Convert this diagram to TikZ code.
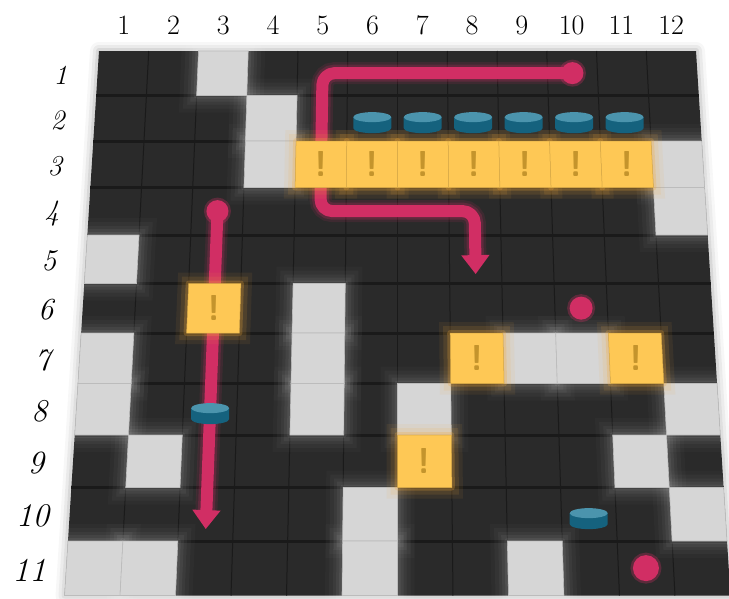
\documentclass[tikz,border=0pt]{standalone}
\usetikzlibrary{arrows.meta,positioning}

\definecolor{boarddark}{HTML}{2A2A2A}
\definecolor{seamdark}{HTML}{1A1A1A}
\definecolor{tilelight}{HTML}{D6D6D6}
\definecolor{tileedge}{HTML}{BCBCBC}
\definecolor{warnyellow}{HTML}{FEC855}
\definecolor{warnglow}{HTML}{F2A93B}
\definecolor{bangbrown}{HTML}{C4942C}
\definecolor{pathpink}{HTML}{D12E64}
\definecolor{disctop}{HTML}{4B94AD}
\definecolor{discside}{HTML}{15627E}

% board in perspective: row line j -> y, column line i on row line j -> x
\pgfmathdeclarefunction{gy}{1}{\pgfmathparse{-(51+44*#1+0.5*#1*#1)}}
\pgfmathdeclarefunction{gx}{2}{\pgfmathparse{397.5+(#1-6)*(597+0.126606*(44*#2+0.5*#2*#2))/12}}

\newcommand\tilepath[2]{({gx(#1-1,#2-1)},{gy(#2-1)}) -- ({gx(#1,#2-1)},{gy(#2-1)}) -- ({gx(#1,#2)},{gy(#2)}) -- ({gx(#1-1,#2)},{gy(#2)}) -- cycle}

\tikzset{
  disc/.pic={
    \fill[discside] (-19,1) -- (-19,-10) arc[start angle=180, end angle=360, x radius=19, y radius=5] -- (19,1) -- cycle;
    \fill[disctop] (0,1) ellipse [x radius=19, y radius=5];
  }
}

\begin{document}
\begin{tikzpicture}[x=1pt, y=1pt,
  collabel/.style={inner sep=0, font=\fontsize{28}{30}\selectfont},
  rowlabel/.style={inner sep=0},
  lighttile/.style={fill=tilelight, draw=tileedge, line width=0.6},
  lighthalo/.style={draw=white, line join=round, draw opacity=0.06, line width=6,
    preaction={draw=white, draw opacity=0.02, line width=34},
    preaction={draw=white, draw opacity=0.03, line width=26},
    preaction={draw=white, draw opacity=0.04, line width=18},
    preaction={draw=white, draw opacity=0.05, line width=12}},
  warntile/.style={fill=warnyellow, draw=warnyellow!85!black, line width=0.5},
  warnhalo/.style={draw=warnglow, line join=round, draw opacity=0.25, line width=6,
    preaction={draw=warnglow, draw opacity=0.08, line width=22},
    preaction={draw=warnglow, draw opacity=0.12, line width=14}},
  bang/.style={inner sep=0, text=bangbrown, font=\sffamily\bfseries\fontsize{36}{36}\selectfont},
  route/.style={draw=pathpink, line width=12, rounded corners=12, line join=round,
    shorten >=-15pt, -{Triangle[width=27pt, length=19pt]},
    preaction={draw=pathpink, -, shorten >=0pt, draw opacity=0.12, line width=22},
    preaction={draw=pathpink, -, shorten >=0pt, draw opacity=0.22, line width=17}},
  dot/.style={circle, inner sep=0, fill=pathpink, minimum size=#1,
    preaction={draw=pathpink, draw opacity=0.3, line width=5}}]
  \useasboundingbox (0,0) rectangle (729,-598);

  % Board
  \coordinate (nw) at ({gx(0,0)},{gy(0)});
  \coordinate (ne) at ({gx(12,0)},{gy(0)});
  \coordinate (se) at ({gx(12,11)},{gy(11)});
  \coordinate (sw) at ({gx(0,11)},{gy(11)});
  \foreach \w/\o in {18/0.03, 12/0.05, 6/0.08}
    \draw[black, line width=\w, draw opacity=\o, line join=round] (nw) -- (ne) -- (se) -- (sw) -- cycle;
  \fill[boarddark] (nw) -- (ne) -- (se) -- (sw) -- cycle;
  \foreach \j in {1,...,10}
    \draw[seamdark, line width=3] ({gx(0,\j)},{gy(\j)}) -- ({gx(12,\j)},{gy(\j)});
  \foreach \i in {1,...,11}
    \draw[seamdark, line width=1] ({gx(\i,0)},{gy(0)}) -- ({gx(\i,11)},{gy(11)});

  % Cell centres
  \foreach \c in {1,...,12}
    \foreach \r in {1,...,11}
      \coordinate (c\c-\r) at ({gx(\c-0.5,\r-0.5)},{gy(\r-0.5)});

  % Labels
  \foreach \c in {1,...,12}
    \node[collabel] (col\c) at ({gx(\c-0.5,0)},-25) {\c};
  \foreach \r in {1,...,11}{
    \pgfmathsetmacro\fs{27+0.6*\r}
    \node[rowlabel, font=\itshape\fontsize{\fs}{\fs}\selectfont] (row\r) at ({gx(0,\r-0.5)-37},{gy(\r-0.5)-2}) {\r};
  }

  % Light tiles
  \def\lightlist{3/1,4/2,4/3,12/3,12/4,1/5,5/6,1/7,5/7,9/7,10/7,1/8,5/8,7/8,12/8,2/9,11/9,6/10,12/10,1/11,2/11,6/11,9/11}
  \foreach \c/\r in \lightlist
    \path[lighthalo] \tilepath{\c}{\r};
  \foreach \c/\r in \lightlist
    \path[lighttile] \tilepath{\c}{\r};

  % Routes
  \draw[route] (c10-1) -- (c5-1) -- (c5-4) -- (c8-4) -- (c8-5);
  \draw[route] (c3-4) -- (c3-10);
  \node[dot=22] (startA) at (c10-1) {};
  \node[dot=22] (startB) at (c3-4) {};

  % Warning tiles
  \def\warnlist{5/3,6/3,7/3,8/3,9/3,10/3,11/3,3/6,8/7,11/7,7/9}
  \foreach \c/\r in \warnlist
    \path[warnhalo] \tilepath{\c}{\r};
  \foreach \c/\r in \warnlist{
    \path[warntile] \tilepath{\c}{\r};
    \node[bang] (bang\c-\r) at (c\c-\r) {!};
  }

  % Discs
  \foreach \c/\r in {6/2,7/2,8/2,9/2,10/2,11/2,3/8,10/10}
    \pic (disc\c-\r) at (c\c-\r) {disc};

  % Goals
  \node[dot=23] (goal10-6) at (c10-6) {};
  \node[dot=26] (goal11-11) at (c11-11) {};
\end{tikzpicture}
\end{document}
